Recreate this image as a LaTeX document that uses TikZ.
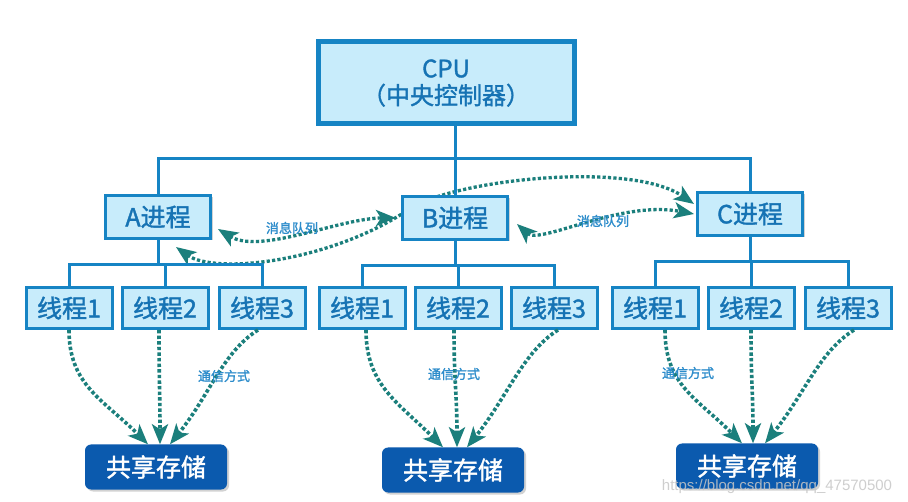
\documentclass[tikz,border=0pt]{standalone}
\usepackage{fontspec}
\setmainfont{Noto Sans CJK SC}
\newfontfamily\boxfont{Noto Sans CJK SC}[FakeBold=1.5]
\newfontfamily\wmfont{Liberation Sans}
\usetikzlibrary{positioning,shadows,arrows.meta,calc,backgrounds}

\definecolor{boxline}{HTML}{1684C4}
\definecolor{boxfill}{HTML}{C8ECFB}
\definecolor{boxtext}{HTML}{1673B4}
\definecolor{storefill}{HTML}{0B5AAE}
\definecolor{flowcol}{HTML}{1B7F7C}
\definecolor{labelcol}{HTML}{2C8CCB}

\begin{document}
\begin{tikzpicture}[x=1pt,y=-1pt,
    shade/.style={drop shadow={opacity=0.35,shadow xshift=2pt,shadow yshift=-2pt}},
    cpubox/.style={draw=boxline, line width=5pt, fill=boxfill, text=boxtext, shade,
      minimum width=256pt, minimum height=82pt, align=center, font=\boxfont\fontsize{24}{27}\selectfont},
    procbox/.style={draw=boxline, line width=3pt, fill=boxfill, text=boxtext, shade,
      minimum width=105pt, minimum height=43pt, inner sep=0pt, font=\boxfont\fontsize{25}{25}\selectfont},
    threadbox/.style={procbox, minimum width=86pt, minimum height=41pt},
    storebox/.style={fill=storefill, rounded corners=6pt, text=white, shade,
      minimum width=142pt, minimum height=45pt, font=\boxfont\fontsize{25}{25}\selectfont},
    bus/.style={draw=boxline, line width=3pt},
    flow/.style={draw=flowcol, line width=3.6pt, dash pattern=on 3.4pt off 2.2pt,
      -{Stealth[length=20pt,width=16pt,inset=5pt,fill=flowcol]}},
    mq/.style={draw=flowcol, line width=3.3pt, dash pattern=on 3.2pt off 2.2pt,
      {Stealth[length=20pt,width=16pt,inset=5pt,fill=flowcol]}-{Stealth[length=20pt,width=16pt,inset=5pt,fill=flowcol]}},
    lbl/.style={text=labelcol, font=\boxfont\fontsize{13}{13}\selectfont, inner sep=1pt}]
  \useasboundingbox (0,0) rectangle (908,502);

  \node[cpubox] (cpu) at (446,83) {CPU\\（中央控制器）};

  \node[procbox] (procA) at (158,217) {A进程};
  \node[procbox] (procB) at (455,218) {B进程};
  \node[procbox] (procC) at (750,214) {C进程};

  \node[threadbox] (a1) at (69,308) {线程1};
  \node[threadbox] (a2) at (165,308) {线程2};
  \node[threadbox] (a3) at (262,308) {线程3};
  \node[threadbox] (b1) at (362,308) {线程1};
  \node[threadbox] (b2) at (458,308) {线程2};
  \node[threadbox] (b3) at (554,308) {线程3};
  \node[threadbox] (c1) at (655,308) {线程1};
  \node[threadbox] (c2) at (751,308) {线程2};
  \node[threadbox] (c3) at (848,308) {线程3};

  \node[storebox] (storeA) at (156,467) {共享存储};
  \node[storebox] (storeB) at (453,470) {共享存储};
  \node[storebox] (storeC) at (747,466) {共享存储};

  % tree lines
  \draw[bus] (procB.north |- cpu.south) -- (procB.north);
  \draw[bus] (procA.north) -- ++(0,-35) -| (procC.north);
  \draw[bus] (procA.south) -- ++(0,25) coordinate (ja);
  \draw[bus] (a1.north) |- (ja) -| (a3.north);
  \draw[bus] (ja -| a2.north) -- (a2.north);
  \draw[bus] (procB.south) -- ++(0,25) coordinate (jb);
  \draw[bus] (b1.north) |- (jb) -| (b3.north);
  \draw[bus] (jb -| b2.north) -- (b2.north);
  \draw[bus] (procC.south) -- ++(0,25) coordinate (jc);
  \draw[bus] (c1.north) |- (jc) -| (c3.north);
  \draw[bus] (jc -| c2.north) -- (c2.north);

  % message queues
  \begin{scope}[on background layer]
    \fill[white] (0,0) rectangle (908,502);
    \draw[mq] ($(procA.south east)+(-36,7)$) .. controls (215,275) and (330,262) .. (408,210)
      .. controls (450,180) and (630,160) .. ($(procC.west)+(-2,-10)$);
  \end{scope}
  \draw[mq] ($(procA.east)+(6,12)$) .. controls (260,255) and (340,218) .. ($(procB.west)+(-5,0)$);
  \draw[mq] ($(procB.east)+(8,6)$) .. controls (540,245) and (620,200) .. ($(procC.west)+(-2,0)$);
  \node[lbl] (mqab) at (292,228) {消息队列};
  \node[lbl] (mqbc) at (603,221) {消息队列};

  % shared memory
  \draw[flow] (a1.south) .. controls +(0,55) and +(-45,-45) .. ($(storeA.north)+(-8,0)$);
  \draw[flow] ($(a2.south)+(-6,0)$) .. controls +(0,50) and +(0,-50) .. ($(storeA.north)+(4,0)$);
  \draw[flow] ($(a3.south)+(-4,0)$) .. controls +(-35,22) and +(40,-50) .. ($(storeA.north)+(14,0)$);
  \draw[flow] ($(b1.south)+(4,0)$) .. controls +(0,55) and +(-45,-45) .. ($(storeB.north)+(-10,0)$);
  \draw[flow] ($(b2.south)+(-4,0)$) .. controls +(0,50) and +(0,-50) .. ($(storeB.north)+(4,0)$);
  \draw[flow] ($(b3.south)+(4,0)$) .. controls +(-35,22) and +(40,-50) .. ($(storeB.north)+(14,0)$);
  \draw[flow] ($(c1.south)+(10,0)$) .. controls +(0,55) and +(-45,-45) .. ($(storeC.north)+(-5,0)$);
  \draw[flow] (c2.south) .. controls +(0,50) and +(0,-50) .. ($(storeC.north)+(6,0)$);
  \draw[flow] ($(c3.south)+(6,0)$) .. controls +(-35,22) and +(40,-50) .. ($(storeC.north)+(18,0)$);
  \node[lbl] (wayA) at (224,376) {通信方式};
  \node[lbl] (wayB) at (454,374) {通信方式};
  \node[lbl] (wayC) at (688,373) {通信方式};

  \node[text=gray!45, opacity=0.85, font=\wmfont\fontsize{15}{15}\selectfont, inner sep=0pt] (mark) at (777,487) {https://blog.csdn.net/qq\_47570500};
\end{tikzpicture}
\end{document}
